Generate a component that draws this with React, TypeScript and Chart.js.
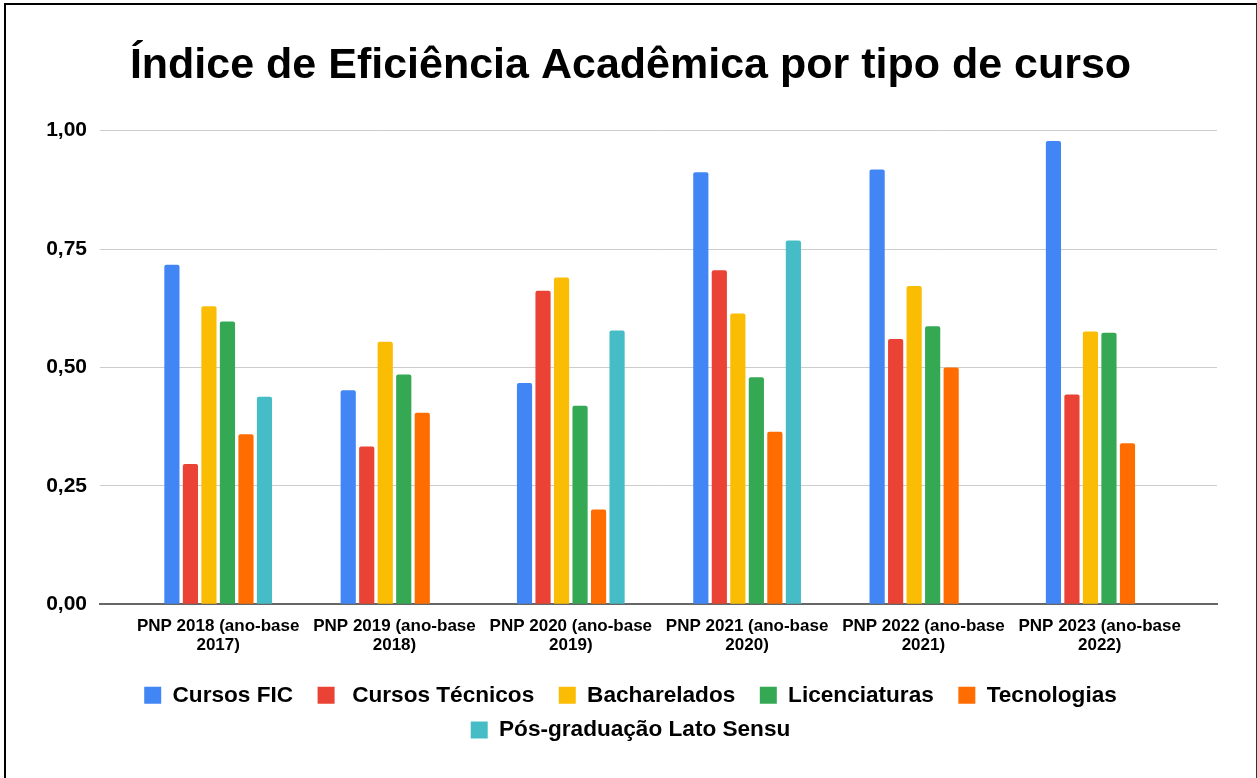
import React, { useEffect, useRef } from "react";
import { Chart, registerables } from "chart.js";

Chart.register(...registerables);

const categories: string[][] = [
  ["PNP 2018 (ano-base", "2017)"],
  ["PNP 2019 (ano-base", "2018)"],
  ["PNP 2020 (ano-base", "2019)"],
  ["PNP 2021 (ano-base", "2020)"],
  ["PNP 2022 (ano-base", "2021)"],
  ["PNP 2023 (ano-base", "2022)"],
];

const cursosFIC = [0.717, 0.452, 0.467, 0.912, 0.918, 0.978];
const cursosTecnicos = [0.296, 0.333, 0.662, 0.705, 0.56, 0.443];
const bacharelados = [0.629, 0.554, 0.69, 0.614, 0.672, 0.576];
const licenciaturas = [0.597, 0.485, 0.419, 0.479, 0.587, 0.573];
const tecnologias = [0.359, 0.404, 0.2, 0.364, 0.5, 0.34];
const posGraduacao: (number | null)[] = [0.438, null, 0.578, 0.768, null, null];

const seriesNames = [
  "Cursos FIC",
  " Cursos Técnicos",
  "Bacharelados",
  "Licenciaturas",
  "Tecnologias",
  "Pós-graduação Lato Sensu",
];
const seriesColors = ["#4285F4", "#EA4335", "#FBBC04", "#34A853", "#FF6D01", "#46BDC6"];
const seriesValues = [cursosFIC, cursosTecnicos, bacharelados, licenciaturas, tecnologias, posGraduacao];

const yTicks = [0, 0.25, 0.5, 0.75, 1];

const X_MIN = -0.6704;
const X_MAX = 5.6653;

const FONT = "'Liberation Sans', Arial, Helvetica, sans-serif";

export default function App() {
  const ref = useRef<HTMLCanvasElement | null>(null);

  useEffect(() => {
    if (!ref.current) return;
    const chart = new Chart(ref.current, {
      type: "bar",
      data: {
        datasets: seriesNames.map((name, k) => ({
          label: name,
          data: seriesValues[k].map((v, i) => ({ x: i, y: v })),
          backgroundColor: seriesColors[k],
          borderWidth: 0,
          borderRadius: { topLeft: 2, topRight: 2, bottomLeft: 0, bottomRight: 0 },
          borderSkipped: "start",
          categoryPercentage: 0.63,
          barPercentage: 0.82,
        })),
      },
      options: {
        animation: false,
        responsive: false,
        layout: { padding: { left: 44, right: 40, top: 0, bottom: 26.8 } },
        plugins: {
          title: {
            display: true,
            text: "Índice de Eficiência Acadêmica por tipo de curso",
            color: "#000",
            font: { family: FONT, size: 43, weight: "bold", lineHeight: 1.2 },
            padding: { top: 40, bottom: 39 },
          },
          legend: {
            position: "bottom",
            labels: {
              color: "#000",
              font: { family: FONT, size: 22.6, weight: "bold" },
              boxWidth: 17,
              boxHeight: 17,
              padding: 12,
              generateLabels: (c: any) => {
                const base = Chart.defaults.plugins.legend.labels.generateLabels(c);
                return base.map((item: any, i: number) => ({
                  ...item,
                  text: i < 4 ? item.text + "  " : item.text,
                  lineWidth: 0,
                }));
              },
            },
          },
          tooltip: { enabled: false },
        },
        scales: {
          x: {
            type: "linear",
            offset: false,
            bounds: "data",
            min: X_MIN,
            max: X_MAX,
            grid: { display: false, offset: false },
            border: { display: true, color: "#666", width: 2 },
            afterBuildTicks: (scale: any) => {
              scale.ticks = categories.map((_, i) => ({ value: i }));
              scale.min = X_MIN;
              scale.max = X_MAX;
            },
            afterFit: (scale: any) => {
              scale.height = 67.8;
            },
            ticks: {
              autoSkip: false,
              maxRotation: 0,
              minRotation: 0,
              padding: 5,
              color: "#000",
              font: { family: FONT, size: 17, weight: "bold", lineHeight: 1.1 },
              callback: (v: any) => categories[Math.round(v)] ?? "",
            },
          },
          y: {
            min: 0,
            max: 1,
            grid: { color: "#cccccc", lineWidth: 1, drawTicks: false },
            border: { display: false },
            afterBuildTicks: (scale: any) => {
              scale.ticks = yTicks.map((v) => ({ value: v }));
            },
            afterFit: (scale: any) => {
              scale.width = 56;
            },
            ticks: {
              padding: 13,
              color: "#000",
              font: { family: FONT, size: 21, weight: "bold" },
              callback: (v: any) => Number(v).toFixed(2).replace(".", ","),
            },
          },
        },
      } as any,
    });
    return () => chart.destroy();
  }, []);

  return (
    <div style={{ position: "fixed", left: 0, top: 0, width: 1257, height: 778, background: "#fff" }}>
      <canvas ref={ref} width={1257} height={778} style={{ display: "block", width: 1257, height: 778 }} />
      <div
        style={{
          position: "absolute",
          left: 4,
          top: 3,
          width: 1250,
          height: 800,
          borderLeft: "2px solid #000",
          borderTop: "2px solid #000",
          borderRight: "2px solid #333",
          pointerEvents: "none",
        }}
      />
    </div>
  );
}
